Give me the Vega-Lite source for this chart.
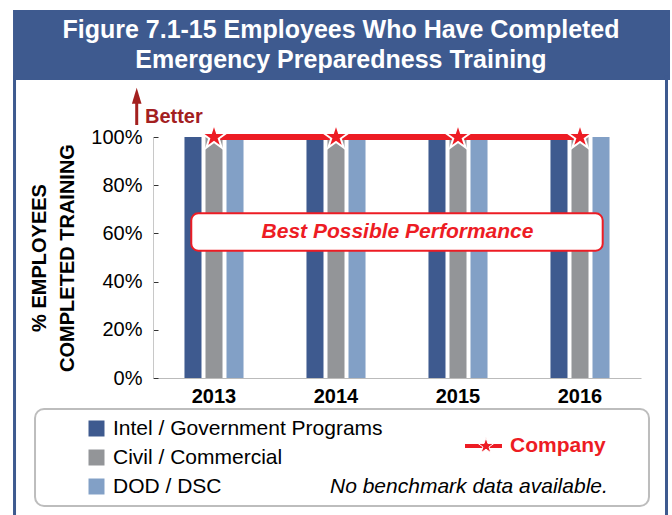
{
  "$schema": "https://vega.github.io/schema/vega-lite/v6.json",
  "width": 651,
  "height": 505,
  "autosize": {"type": "none"},
  "padding": {"left": 14, "top": 10, "right": 7, "bottom": 0},
  "background": "white",
  "config": {"font": "Liberation Sans", "view": {"stroke": null}},
  "datasets": {
    "bars": [
      {"year": "2013", "series": "Intel / Government Programs", "value": 100},
      {"year": "2013", "series": "Civil / Commercial", "value": 100},
      {"year": "2013", "series": "DOD / DSC", "value": 100},
      {"year": "2014", "series": "Intel / Government Programs", "value": 100},
      {"year": "2014", "series": "Civil / Commercial", "value": 100},
      {"year": "2014", "series": "DOD / DSC", "value": 100},
      {"year": "2015", "series": "Intel / Government Programs", "value": 100},
      {"year": "2015", "series": "Civil / Commercial", "value": 100},
      {"year": "2015", "series": "DOD / DSC", "value": 100},
      {"year": "2016", "series": "Intel / Government Programs", "value": 100},
      {"year": "2016", "series": "Civil / Commercial", "value": 100},
      {"year": "2016", "series": "DOD / DSC", "value": 100}
    ],
    "company": [
      {"year": "2013", "value": 100},
      {"year": "2014", "value": 100},
      {"year": "2015", "value": 100},
      {"year": "2016", "value": 100}
    ]
  },
  "resolve": {"scale": {"x": "independent", "y": "independent"}},
  "layer": [
    {
      "layer": [
        {
          "data": {"name": "bars"},
          "mark": {"type": "bar"},
          "encoding": {
            "x": {
              "field": "year", "type": "nominal",
              "scale": {"range": [139, 627], "paddingInner": 0.516, "paddingOuter": 0.258},
              "axis": {"offset": -137, "domainColor": "#BBBBBB", "ticks": false, "labelFontSize": 20, "labelFontWeight": "bold", "labelColor": "black", "labelPadding": 8, "labelAngle": 0, "title": null}
            },
            "xOffset": {
              "field": "series", "type": "nominal",
              "sort": ["Intel / Government Programs", "Civil / Commercial", "DOD / DSC"],
              "scale": {"paddingInner": 0.19, "paddingOuter": 0}
            },
            "y": {
              "field": "value", "type": "quantitative",
              "scale": {"domain": [0, 100], "range": [368, 127], "nice": false},
              "axis": {
                "offset": -139, "values": [0, 20, 40, 60, 80, 100], "labelExpr": "datum.value + '%'",
                "grid": false, "domainColor": "#C8C8C8", "tickColor": "#333333", "tickSize": -5,
                "labelPadding": 16, "labelFontSize": 20, "labelColor": "black",
                "title": ["% EMPLOYEES", "COMPLETED TRAINING"], "titleFontSize": 20, "titleFontWeight": "bold", "titleColor": "black",
                "titleAngle": -90, "titleX": -114, "titleY": 247.5, "titleAlign": "center", "titleBaseline": "middle", "titleLineHeight": 28
              }
            },
            "color": {
              "field": "series", "type": "nominal",
              "sort": ["Intel / Government Programs", "Civil / Commercial", "DOD / DSC"],
              "scale": {"domain": ["Intel / Government Programs", "Civil / Commercial", "DOD / DSC"], "range": ["#3E5A8F", "#939598", "#82A0C6"]},
              "legend": {"orient": "none", "legendX": 72, "legendY": 408, "title": null, "direction": "vertical", "symbolType": "square", "symbolSize": 256, "symbolStrokeWidth": 0, "symbolOpacity": 1, "labelFontSize": 21, "labelColor": "black", "labelOffset": 6, "rowPadding": 7, "padding": 0, "labelLimit": 500}
            }
          }
        },
        {
          "data": {"name": "company"},
          "mark": {"type": "line", "color": "#ED1C24", "strokeWidth": 6},
          "encoding": {
            "x": {"field": "year", "type": "nominal"},
            "y": {"field": "value", "type": "quantitative"}
          }
        },
        {
          "data": {"name": "company"},
          "mark": {"type": "point", "shape": "M0,-1L0.2245,-0.309L0.951,-0.309L0.363,0.118L0.588,0.809L0,0.382L-0.588,0.809L-0.363,0.118L-0.951,-0.309L-0.2245,-0.309Z", "size": 690, "filled": true, "fill": "#ED1C24", "stroke": "white", "strokeWidth": 2, "opacity": 1},
          "encoding": {
            "x": {"field": "year", "type": "nominal"},
            "y": {"field": "value", "type": "quantitative"}
          }
        }
      ]
    },
    {
      "data": {"values": [{}]},
      "mark": {"type": "rect", "fill": "#3E5A8F"},
      "encoding": {
        "x": {"datum": -0.0015, "type": "quantitative", "scale": {"domain": [0, 1], "nice": false}, "axis": null},
        "x2": {"datum": 1.0077},
        "y": {"datum": 0, "type": "quantitative", "scale": {"domain": [0, 1], "nice": false, "reverse": true}, "axis": null},
        "y2": {"datum": 0.1386}
      }
    },
    {
      "data": {"values": [{}]},
      "mark": {"type": "text", "text": ["Figure 7.1-15 Employees Who Have Completed", "Emergency Preparedness Training"], "color": "white", "fontSize": 25, "fontWeight": "bold", "align": "center", "baseline": "middle", "lineHeight": 30},
      "encoding": {
        "x": {"datum": 0.5023, "type": "quantitative", "scale": {"domain": [0, 1], "nice": false}, "axis": null},
        "y": {"datum": 0.0396, "type": "quantitative", "scale": {"domain": [0, 1], "nice": false, "reverse": true}, "axis": null}
      }
    },
    {
      "data": {"values": [{}]},
      "mark": {"type": "rule", "color": "#3E5A8F", "strokeWidth": 3},
      "encoding": {
        "x": {"datum": 0.0008, "type": "quantitative", "scale": {"domain": [0, 1], "nice": false}, "axis": null},
        "y": {"datum": 0.13, "type": "quantitative", "scale": {"domain": [0, 1], "nice": false, "reverse": true}, "axis": null},
        "y2": {"datum": 1.01}
      }
    },
    {
      "data": {"values": [{}]},
      "mark": {"type": "rule", "color": "#3E5A8F", "strokeWidth": 3},
      "encoding": {
        "x": {"datum": 1.0023, "type": "quantitative", "scale": {"domain": [0, 1], "nice": false}, "axis": null},
        "y": {"datum": 0.13, "type": "quantitative", "scale": {"domain": [0, 1], "nice": false, "reverse": true}, "axis": null},
        "y2": {"datum": 1.01}
      }
    },
    {
      "data": {"values": [{}]},
      "mark": {"type": "rule", "color": "#A3201F", "strokeWidth": 3},
      "encoding": {
        "x": {"datum": 0.1885, "type": "quantitative", "scale": {"domain": [0, 1], "nice": false}, "axis": null},
        "y": {"datum": 0.1822, "type": "quantitative", "scale": {"domain": [0, 1], "nice": false, "reverse": true}, "axis": null},
        "y2": {"datum": 0.2277}
      }
    },
    {
      "data": {"values": [{}]},
      "mark": {"type": "point", "shape": "M0,-1L0.6,1L-0.6,1Z", "size": 256, "filled": true, "color": "#A3201F", "opacity": 1},
      "encoding": {
        "x": {"datum": 0.1885, "type": "quantitative", "scale": {"domain": [0, 1], "nice": false}, "axis": null},
        "y": {"datum": 0.1699, "type": "quantitative", "scale": {"domain": [0, 1], "nice": false, "reverse": true}, "axis": null}
      }
    },
    {
      "data": {"values": [{}]},
      "mark": {"type": "text", "text": "Better", "color": "#A3201F", "fontSize": 20, "fontWeight": "bold", "align": "left", "baseline": "alphabetic"},
      "encoding": {
        "x": {"datum": 0.2012, "type": "quantitative", "scale": {"domain": [0, 1], "nice": false}, "axis": null},
        "y": {"datum": 0.2232, "type": "quantitative", "scale": {"domain": [0, 1], "nice": false, "reverse": true}, "axis": null}
      }
    },
    {
      "data": {"values": [{}]},
      "mark": {"type": "rect", "fill": "white", "stroke": "#ED1C24", "strokeWidth": 2, "cornerRadius": 7},
      "encoding": {
        "x": {"datum": 0.2723, "type": "quantitative", "scale": {"domain": [0, 1], "nice": false}, "axis": null},
        "x2": {"datum": 0.9043},
        "y": {"datum": 0.4026, "type": "quantitative", "scale": {"domain": [0, 1], "nice": false, "reverse": true}, "axis": null},
        "y2": {"datum": 0.4766}
      }
    },
    {
      "data": {"values": [{}]},
      "mark": {"type": "text", "text": "Best Possible Performance", "color": "#ED1C24", "fontSize": 21, "fontWeight": "bold", "fontStyle": "italic", "align": "center", "baseline": "middle"},
      "encoding": {
        "x": {"datum": 0.5891, "type": "quantitative", "scale": {"domain": [0, 1], "nice": false}, "axis": null},
        "y": {"datum": 0.4396, "type": "quantitative", "scale": {"domain": [0, 1], "nice": false, "reverse": true}, "axis": null}
      }
    },
    {
      "data": {"values": [{}]},
      "mark": {"type": "rect", "fill": null, "stroke": "#BDBDBD", "strokeWidth": 2, "cornerRadius": 9},
      "encoding": {
        "x": {"datum": 0.0323, "type": "quantitative", "scale": {"domain": [0, 1], "nice": false}, "axis": null},
        "x2": {"datum": 0.9754},
        "y": {"datum": 0.7901, "type": "quantitative", "scale": {"domain": [0, 1], "nice": false, "reverse": true}, "axis": null},
        "y2": {"datum": 0.9822}
      }
    },
    {
      "data": {"values": [{}]},
      "mark": {"type": "rule", "color": "#ED1C24", "strokeWidth": 4},
      "encoding": {
        "x": {"datum": 0.6928, "type": "quantitative", "scale": {"domain": [0, 1], "nice": false}, "axis": null},
        "x2": {"datum": 0.7496},
        "y": {"datum": 0.8634, "type": "quantitative", "scale": {"domain": [0, 1], "nice": false, "reverse": true}, "axis": null}
      }
    },
    {
      "data": {"values": [{}]},
      "mark": {"type": "point", "shape": "M0,-1L0.2245,-0.309L0.951,-0.309L0.363,0.118L0.588,0.809L0,0.382L-0.588,0.809L-0.363,0.118L-0.951,-0.309L-0.2245,-0.309Z", "size": 283, "filled": true, "fill": "#ED1C24", "stroke": "white", "strokeWidth": 1, "opacity": 1},
      "encoding": {
        "x": {"datum": 0.725, "type": "quantitative", "scale": {"domain": [0, 1], "nice": false}, "axis": null},
        "y": {"datum": 0.8634, "type": "quantitative", "scale": {"domain": [0, 1], "nice": false, "reverse": true}, "axis": null}
      }
    },
    {
      "data": {"values": [{}]},
      "mark": {"type": "text", "text": "Company", "color": "#ED1C24", "fontSize": 21, "fontWeight": "bold", "align": "left", "baseline": "middle"},
      "encoding": {
        "x": {"datum": 0.7619, "type": "quantitative", "scale": {"domain": [0, 1], "nice": false}, "axis": null},
        "y": {"datum": 0.8634, "type": "quantitative", "scale": {"domain": [0, 1], "nice": false, "reverse": true}, "axis": null}
      }
    },
    {
      "data": {"values": [{}]},
      "mark": {"type": "text", "text": "No benchmark data available.", "color": "black", "fontSize": 21, "fontStyle": "italic", "align": "left", "baseline": "middle"},
      "encoding": {
        "x": {"datum": 0.4854, "type": "quantitative", "scale": {"domain": [0, 1], "nice": false}, "axis": null},
        "y": {"datum": 0.9446, "type": "quantitative", "scale": {"domain": [0, 1], "nice": false, "reverse": true}, "axis": null}
      }
    }
  ]
}
